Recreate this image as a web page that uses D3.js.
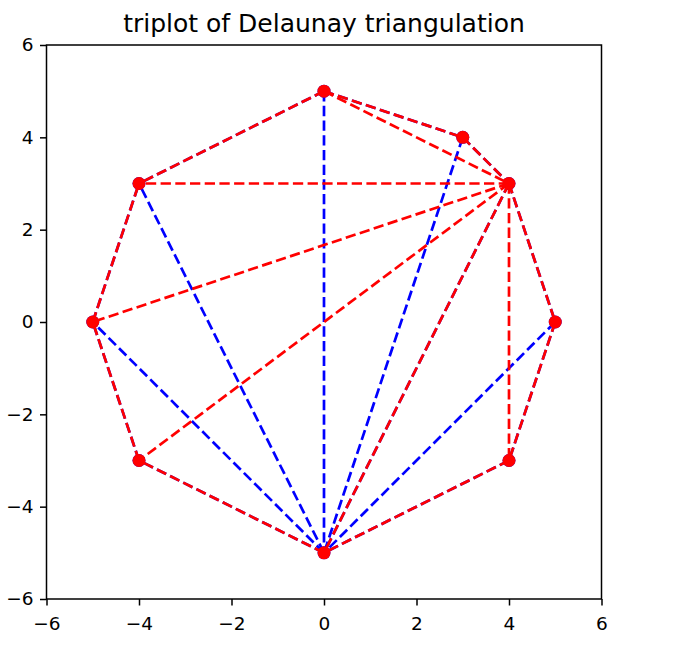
<!DOCTYPE html>
<html>
<head>
<meta charset="utf-8">
<script src="https://cdn.jsdelivr.net/npm/d3@7"></script>
<style>
  html, body { margin: 0; padding: 0; background: #fff; }
  svg { display: block; }
  text { font-family: "DejaVu Sans", sans-serif; fill: #000; }
</style>
</head>
<body>
<svg id="chart" width="675" height="649"></svg>
<script>
// ---- data ----
const xs = [0, 3, 4, 5, 4, 0, -4, -5, -4];
const ys = [5, 4, 3, 0, -3, -5, -3, 0, 3];
const blueTriangles = [[0,1,5],[1,2,5],[2,3,5],[3,4,5],[0,8,5],[8,7,5],[7,6,5]];
const redTriangles  = [[0,1,2],[0,2,8],[8,2,7],[7,2,6],[6,2,5],[5,2,4],[2,3,4]];
const xTicks = [-6, -4, -2, 0, 2, 4, 6];
const yTicks = [-6, -4, -2, 0, 2, 4, 6];
const title = "triplot of Delaunay triangulation";

// ---- layout ----
const svg = d3.select("#chart");
const L = 46.5, R = 601.5, T = 45, B = 599;
const x = d3.scaleLinear().domain([-6, 6]).range([L, R]);
const y = d3.scaleLinear().domain([-6, 6]).range([B, T]);

function edgesOf(tris) {
  const seen = new Set(), out = [];
  tris.forEach(t => {
    for (let k = 0; k < 3; k++) {
      const a = Math.min(t[k], t[(k + 1) % 3]), b = Math.max(t[k], t[(k + 1) % 3]);
      const key = a + "-" + b;
      if (!seen.has(key)) { seen.add(key); out.push([a, b]); }
    }
  });
  return out;
}

const line = d3.line().x(i => x(xs[i])).y(i => y(ys[i]));
const plot = svg.append("g");

function triplot(tris, color) {
  const edges = edgesOf(tris);
  plot.append("g").selectAll("path")
    .data(edges)
    .join("path")
    .attr("d", e => line(e))
    .attr("fill", "none")
    .attr("stroke", color)
    .attr("stroke-width", 2.7)
    .attr("stroke-dasharray", "10.3,4.4");
  plot.append("g").selectAll("circle")
    .data(d3.range(xs.length))
    .join("circle")
    .attr("cx", i => x(xs[i]))
    .attr("cy", i => y(ys[i]))
    .attr("r", 6.5)
    .attr("fill", color);
}

triplot(blueTriangles, "#0000ff");
triplot(redTriangles, "#ff0000");

// ---- axes ----
const fmt = d => d < 0 ? "\u2212" + Math.abs(d) : String(d);
const xAxis = d3.axisBottom(x).tickValues(xTicks).tickSize(6.5).tickPadding(11).tickFormat(fmt);
const yAxis = d3.axisLeft(y).tickValues(yTicks).tickSize(6.5).tickPadding(6.5).tickFormat(fmt);

const gx = svg.append("g").attr("transform", `translate(0,${B})`).call(xAxis);
const gy = svg.append("g").attr("transform", `translate(${L},0)`).call(yAxis);
[gx, gy].forEach(g => {
  g.select(".domain").remove();
  g.selectAll(".tick line").attr("stroke", "#000").attr("stroke-width", 1.5);
  g.selectAll(".tick text").attr("font-size", "18.5px").attr("font-family", "DejaVu Sans").attr("fill", "#000");
});

// spines
svg.append("rect")
  .attr("x", L).attr("y", T).attr("width", R - L).attr("height", B - T)
  .attr("fill", "none").attr("stroke", "#000").attr("stroke-width", 1.5);

// title
svg.append("text")
  .attr("x", (L + R) / 2).attr("y", 32)
  .attr("text-anchor", "middle")
  .attr("font-size", "25px")
  .text(title);
</script>
</body>
</html>
